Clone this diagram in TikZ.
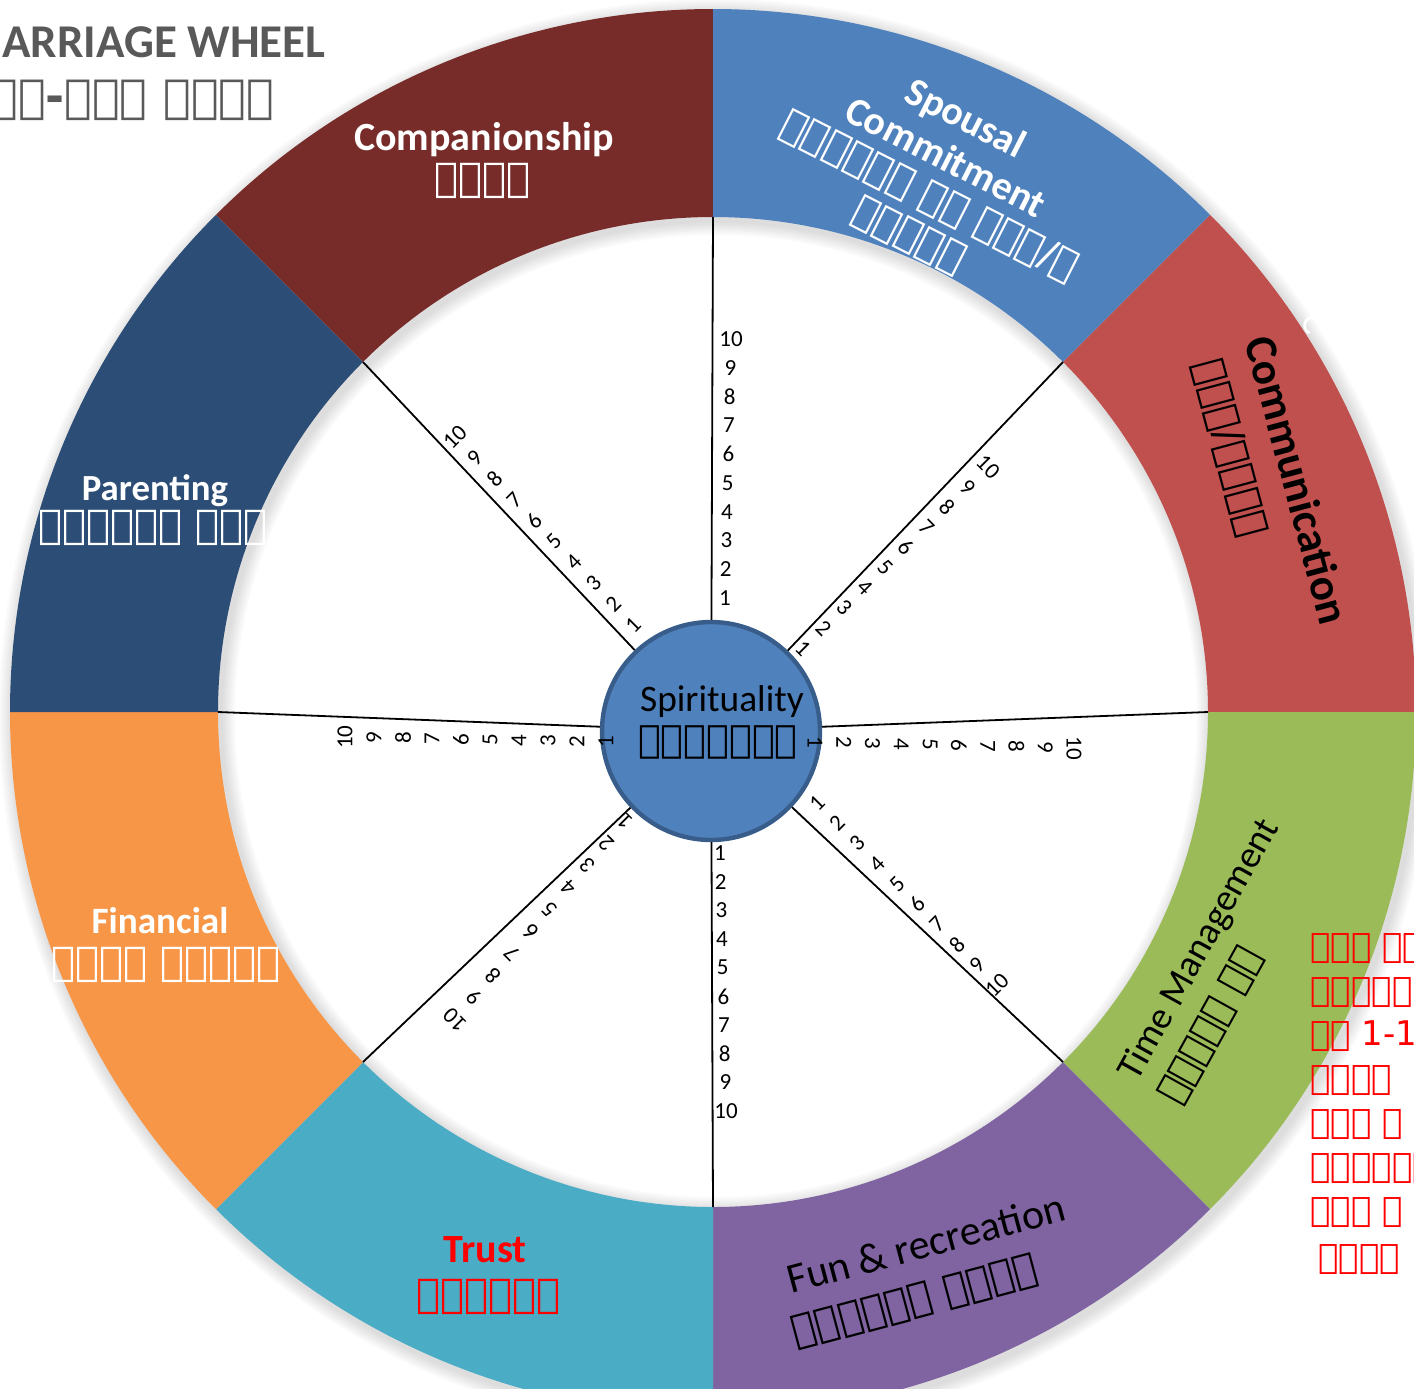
\documentclass[tikz,border=0pt]{standalone}
\usepackage{fontspec}
\setmainfont{Carlito}
\IfFontExistsTF{FreeSerif.otf}
  {\newfontfamily\ethfont{FreeSerif.otf}[BoldFont=FreeSerif.otf, BoldFeatures={FakeBold=1.5}]}
  {\newfontfamily\ethfont{DejaVu Sans}}
\usepackage{xcolor}
\usetikzlibrary{positioning, calc}

\definecolor{segComp}{HTML}{772C2A}
\definecolor{segSpouse}{HTML}{4F81BD}
\definecolor{segComm}{HTML}{C0504D}
\definecolor{segTime}{HTML}{9BBB59}
\definecolor{segFun}{HTML}{8064A2}
\definecolor{segTrust}{HTML}{4BACC6}
\definecolor{segFin}{HTML}{F79646}
\definecolor{segPar}{HTML}{2C4D75}
\definecolor{hubLine}{HTML}{385D8A}
\definecolor{titleGray}{HTML}{595959}

\begin{document}
\begin{tikzpicture}[x=0.5pt, y=0.5pt,
    spoke/.style={draw=black, line width=0.9pt},
    hub/.style={circle, draw=hubLine, line width=2.2pt, fill=segSpouse, minimum size=109pt, inner sep=0pt},
    seglbl/.style={font=\fontsize{20}{22}\selectfont\bfseries, text=white, align=center, inner sep=0pt},
    segeth/.style={font=\fontsize{20}{22}\selectfont\ethfont, text=white, align=center, inner sep=0pt},
    score/.style={font=\fontsize{11.5}{12}\selectfont, inner sep=0pt},
    note/.style={font=\fontsize{17}{18}\selectfont\ethfont, text=red, anchor=base west, inner sep=0pt}
]
    \useasboundingbox (0,0) rectangle (1414,-1388);

    % soft shadow of the wheel
    \foreach \s in {2,4,...,14}
        \fill[black, opacity=0.018, even odd rule] (716,-716) circle[radius=703+\s] (716,-716) circle[radius=495-\s];

    % ring segments
    \coordinate (W) at (713,-712);
    \foreach \a/\col in {90/segComp, 45/segSpouse, 0/segComm, -45/segTime, -90/segFun, -135/segTrust, 180/segFin, 135/segPar}
        \fill[\col] (W) ++(\a:703) arc[start angle=\a, delta angle=45, radius=703]
            -- ($(W)+(\a+45:495)$) arc[start angle=\a+45, delta angle=-45, radius=495] -- cycle;

    \foreach \n/\a in {eN/90, eNE/45, eE/0, eSE/-45, eS/-90, eSW/-135, eW/180, eNW/135}
        \coordinate (\n) at ($(W)+(\a:495)$);

    % hub and spokes
    \node[hub] (hub) at (711,-731) {};
    \foreach \n in {eN, eNE, eE, eSE, eS, eSW, eW, eNW}
        \draw[spoke] (hub) -- (\n);

    % scores 1..10 beside each spoke
    \foreach \n/\ax/\ay/\bx/\by/\tilt in {eN/725/598/731/339/0, eNE/803/648/988/467/-45, eE/815/742/1074/748/-90,
                                          eSE/817/803/997/985/45, eS/720/853/726/1111/0, eSW/625/822/455/1020/135,
                                          eW/606/742/345/737/90, eNW/633/625/455/437/45}
        \foreach \k in {1,...,10} {
            \pgfmathsetmacro\tpos{(\k-1)/9}
            \node[score, rotate=\tilt] (\n-\k) at ($(\ax,-\ay)!\tpos!(\bx,-\by)$) {\k};
        }

    \node[font=\fontsize{18.7}{20}\selectfont, inner sep=0pt] (spirit) at (722,-702) {Spirituality};
    \node[font=\fontsize{19}{20}\selectfont\ethfont, inner sep=0pt] (spiritE) at (718,-742) {ምንፈሳውነት};

    % segment labels
    \node[seglbl] (comp) at (484,-140) {Companionship};
    \node[segeth, font=\fontsize{20}{22}\selectfont\ethfont\bfseries] (compE) at (483,-181) {ሕብረት};

    \node[seglbl, rotate=-27] (spouse) at (956,-137) {Spousal\\Commitment};
    \node[segeth, rotate=-27] (spouseE) at (919,-216) {ተወፋይነት ናብ በዓል/ቲ\\ቃሊዳንካ};

    \node[seglbl, text=black, rotate=-75, font=\fontsize{22.5}{24}\selectfont\bfseries] (comm) at (1298,-480) {Communication};
    \node[segeth, text=black, rotate=-75] (commE) at (1230,-448) {ርክብ/ዝርርብ};
    \node[font=\fontsize{18}{20}\selectfont, text=white, rotate=-75, inner sep=0pt] (stray) at (1315,-324) {C};

    \node[seglbl, text=black, rotate=61, font=\fontsize{19}{22}\selectfont] (time) at (1200,-950) {Time Management};
    \node[segeth, text=black, rotate=61, font=\fontsize{19}{22}\selectfont\ethfont] (timeE) at (1211,-1026) {ኣጠቓቕማ ጊዜ};

    \node[seglbl, text=black, rotate=15, font=\fontsize{21}{24}\selectfont] (fun) at (926,-1243) {Fun \& recreation};
    \node[segeth, text=black, rotate=15] (funE) at (915,-1302) {ምዝንጋዕን ሓጎስን};

    \node[seglbl, text=red] (trust) at (485,-1250) {Trust};
    \node[segeth, text=red, font=\fontsize{20}{22}\selectfont\ethfont\bfseries] (trustE) at (489,-1297) {ምትእምማን};

    \node[seglbl, font=\fontsize{18.6}{20}\selectfont\bfseries] (fin) at (160,-921) {Financial};
    \node[segeth] (finE) at (166,-965) {ግነዘብ ዝምልከት};

    \node[seglbl, font=\fontsize{18.4}{20}\selectfont\bfseries] (par) at (155,-491) {Parenting};
    \node[segeth] (parE) at (153,-528) {ኣተኣላልያ ስድራ};

    % title
    \node[font=\fontsize{23.5}{26}\selectfont\bfseries, text=titleGray, anchor=base west, inner sep=0pt] (title) at (2,-57) {ARRIAGE WHEEL};
    \node[font=\fontsize{23}{26}\selectfont\ethfont\bfseries, text=titleGray, anchor=base west, inner sep=0pt] (titleE) at (-10,-112) {ቃል-ኪዳን ዓንኬል};

    % red note on the right
    \foreach \x/\y/\t [count=\i] in {1310/957/{ነዘን ኣብ}, 1310/1001/{ባህርያት}, 1310/1045/{ካብ 1-10}, 1310/1089/{ድኽመት}, 1310/1133/{ድሓር ነ}, 1310/1177/{ኣላግበን፡}, 1310/1221/{ኣብታ ዝ}, 1318/1268/{ንኽተመ}}
        \node[note] (note\i) at (\x,-\y) {\t};
\end{tikzpicture}
\end{document}
